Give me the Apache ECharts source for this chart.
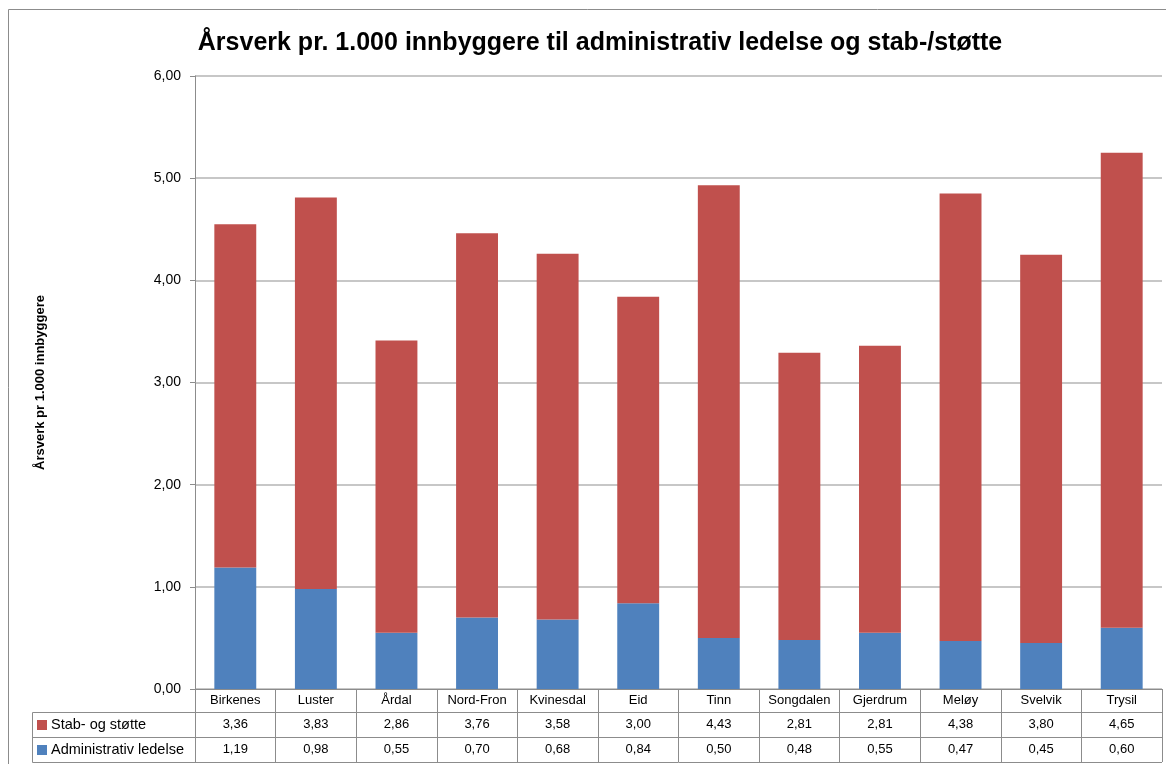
<!DOCTYPE html>
<html>
<head>
<meta charset="utf-8">
<script src="https://cdn.jsdelivr.net/npm/echarts@6/dist/echarts.min.js"></script>
<style>
  html, body { margin: 0; padding: 0; background: #fff; }
  #chart { width: 1166px; height: 764px; }
</style>
</head>
<body>
<div id="chart"></div>
<script>
// kommuner og verdier lest av figuren
const kommuner = ['Birkenes', 'Luster', 'Årdal', 'Nord-Fron', 'Kvinesdal', 'Eid', 'Tinn', 'Songdalen', 'Gjerdrum', 'Meløy', 'Svelvik', 'Trysil']
const stabStotte = [3.36, 3.83, 2.86, 3.76, 3.58, 3.00, 4.43, 2.81, 2.81, 4.38, 3.80, 4.65]
const adminLedelse = [1.19, 0.98, 0.55, 0.70, 0.68, 0.84, 0.50, 0.48, 0.55, 0.47, 0.45, 0.60]
const yTicks = [0, 1, 2, 3, 4, 5, 6]

const FONT = 'Liberation Sans'
const GRID_LINE = '#b4b4b4'
const BLUE = '#4f81bd'
const RED = '#c0504d'

const fmt = v => Number(v).toFixed(2).replace('.', ',')

// en x-akse per tabellrad
function tableAxis (offset, tickLen, margin, formatter) {
  return {
    type: 'category',
    data: kommuner,
    position: 'bottom',
    offset: offset,
    gridIndex: 0,
    axisLine: { show: true, lineStyle: { color: '#8c8c8c', width: 1 } },
    axisTick: { show: true, alignWithLabel: false, interval: 0, length: tickLen, lineStyle: { color: '#8c8c8c' } },
    axisLabel: { interval: 0, margin: margin, color: '#000', fontFamily: FONT, fontSize: 13, formatter: formatter }
  }
}

const chart = echarts.init(document.getElementById('chart'))
const options = {
  animation: false,
  backgroundColor: '#fff',
  title: {
    text: 'Årsverk pr. 1.000 innbyggere til administrativ ledelse og stab-/støtte',
    left: 595,
    textAlign: 'center',
    top: 26,
    textStyle: { fontFamily: FONT, fontWeight: 'bold', fontSize: 25, color: '#000' }
  },
  grid: { left: 195, right: 4, top: 76, bottom: 75, containLabel: false },
  xAxis: [
    tableAxis(0, 23, 5, v => v),
    tableAxis(23, 25, 6, (v, i) => fmt(stabStotte[i])),
    tableAxis(48, 25, 6, (v, i) => fmt(adminLedelse[i]))
  ],
  yAxis: {
    type: 'value',
    min: yTicks[0],
    max: yTicks[yTicks.length - 1],
    interval: 1,
    name: 'Årsverk pr 1.000 innbyggere',
    nameLocation: 'middle',
    nameGap: 148,
    nameRotate: 90,
    nameTextStyle: { fontFamily: FONT, fontWeight: 'bold', fontSize: 13, color: '#000' },
    axisLine: { show: true, lineStyle: { color: '#8c8c8c' } },
    axisTick: { show: true, length: 5, inside: false, lineStyle: { color: '#8c8c8c' } },
    axisLabel: { margin: 14, color: '#000', fontFamily: FONT, fontSize: 14, formatter: fmt },
    splitLine: { show: true, lineStyle: { color: GRID_LINE, width: 1.5 } }
  },
  series: [{
    name: 'Administrativ ledelse',
    type: 'bar',
    stack: 'total',
    xAxisIndex: 0,
    barWidth: '52%',
    itemStyle: { color: BLUE },
    data: adminLedelse
  }, {
    name: 'Stab- og støtte',
    type: 'bar',
    stack: 'total',
    xAxisIndex: 0,
    barWidth: '52%',
    itemStyle: { color: RED },
    data: stabStotte
  }],
  graphic: [
    // ytre ramme
    { type: 'rect', shape: { x: 8.5, y: 9.5, width: 1170, height: 770 }, style: { fill: null, stroke: '#8c8c8c', lineWidth: 1 }, silent: true },
    // tabellens venstre del (forklaring)
    { type: 'rect', shape: { x: 32.5, y: 712.5, width: 163, height: 50 }, style: { fill: null, stroke: '#8c8c8c', lineWidth: 1 }, silent: true },
    { type: 'line', shape: { x1: 32, y1: 737.5, x2: 195, y2: 737.5 }, style: { stroke: '#8c8c8c', lineWidth: 1 }, silent: true },
    { type: 'line', shape: { x1: 195, y1: 762.5, x2: 1162, y2: 762.5 }, style: { stroke: '#8c8c8c', lineWidth: 1 }, silent: true },
    { type: 'rect', shape: { x: 37, y: 720, width: 10, height: 10 }, style: { fill: RED }, silent: true },
    { type: 'text', x: 51, y: 725, style: { text: 'Stab- og støtte', fontFamily: FONT, fontSize: 14.5, fill: '#000', verticalAlign: 'middle' }, silent: true },
    { type: 'rect', shape: { x: 37, y: 745, width: 10, height: 10 }, style: { fill: BLUE }, silent: true },
    { type: 'text', x: 51, y: 750, style: { text: 'Administrativ ledelse', fontFamily: FONT, fontSize: 14.5, fill: '#000', verticalAlign: 'middle' }, silent: true }
  ]
}
chart.setOption(options)
</script>
</body>
</html>
